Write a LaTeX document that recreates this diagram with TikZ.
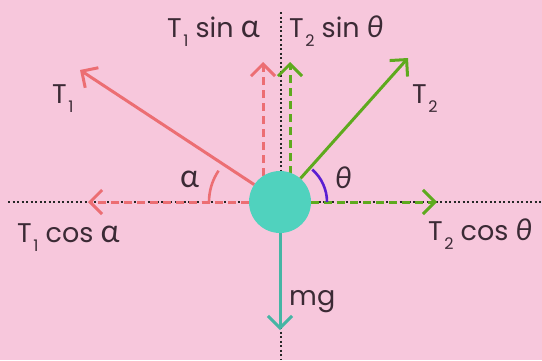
\documentclass[tikz,border=0pt]{standalone}
\usepackage{fontspec}
\setmainfont{Poppins}
\newfontfamily\grk{Lato}
\usetikzlibrary{arrows.meta}
\definecolor{bg}{HTML}{F7C7DC}
\definecolor{tred}{HTML}{EC6E73}
\definecolor{tgreen}{HTML}{5EAA1E}
\definecolor{ballc}{HTML}{50D2BE}
\definecolor{mgc}{HTML}{45B5A4}
\definecolor{tpurple}{HTML}{5A1ED2}
\definecolor{txt}{HTML}{3B2A35}
\newcommand\tsub[1]{\kern1.5pt\raisebox{-9pt}{\fontsize{16}{16}\selectfont #1}}
\newcommand\gal{{\grk\fontsize{32}{32}\selectfont α}}
\newcommand\gth{{\grk\itshape\fontsize{30}{30}\selectfont θ}}
\begin{document}
\begin{tikzpicture}[x=1pt,y=1pt,
  barb/.style={-{Straight Barb[length=12pt,width=24pt,line width=3pt]}},
  force/.style={barb,line width=3pt},
  comp/.style={barb,line width=3pt,dash pattern=on 8pt off 5pt},
  axis/.style={line width=1.6pt,color=black!85,dash pattern=on 2pt off 2.5pt},
  lbl/.style={inner sep=0pt,anchor=base west,text=txt,font=\fontsize{27}{32}\selectfont},
  angarc/.style={line width=2.6pt}]
\fill[bg] (0,0) rectangle (542,360);
\useasboundingbox (0,0) rectangle (542,360);
% axes
\coordinate (hl) at (8,158);
\coordinate (hr) at (542,158);
\coordinate (vt) at (281,348);
\coordinate (vb) at (281,0);
\draw[axis] (hl) -- (hr);
\draw[axis] (vt) -- (vb);
% components
\coordinate (c1s) at (249,158);
\coordinate (c1e) at (88,158);
\coordinate (c2s) at (311,158);
\coordinate (c2e) at (437,158);
\coordinate (s1s) at (263,184);
\coordinate (s1e) at (263,298);
\coordinate (s2s) at (290,186);
\coordinate (s2e) at (290,298);
\draw[comp,tred] (c1s) -- (c1e);
\draw[comp,tgreen] (c2s) -- (c2e);
\draw[comp,tred] (s1s) -- (s1e);
\draw[comp,tgreen] (s2s) -- (s2e);
% ball
\node[circle,fill=ballc,minimum size=62pt,inner sep=0pt] (ball) at (280,158) {};
% forces
\coordinate (t1tip) at (80,290);
\coordinate (t2tip) at (408,302);
\coordinate (mgtip) at (280,30);
\draw[force,tred] (ball.146) -- (t1tip);
\draw[force,tgreen] (ball.49) -- (t2tip);
\draw[force,mgc] (ball.south) -- (mgtip);
% angle arcs
\coordinate (ac) at (265,158);
\coordinate (tc) at (284,158);
\draw[angarc,tred] (ac) ++(180:56) arc[start angle=180,end angle=146,radius=56];
\draw[angarc,tpurple] (tc) ++(0:43) arc[start angle=0,end angle=49,radius=43];
% labels
\node[lbl] (l1) at (167,323) {T\tsub{1} sin \gal};
\node[lbl] (l2) at (289,323) {T\tsub{2} sin \gth};
\node[lbl] (l3) at (52,257) {T\tsub{1}};
\node[lbl] (l4) at (412,257) {T\tsub{2}};
\node[lbl] (l5) at (180,173) {\gal};
\node[lbl] (l6) at (335,172) {\gth};
\node[lbl] (l7) at (17,118) {T\tsub{1} cos \gal};
\node[lbl] (l8) at (428,120) {T\tsub{2} cos \gth};
\node[lbl] (l9) at (289,55) {mg};
\end{tikzpicture}
\end{document}
